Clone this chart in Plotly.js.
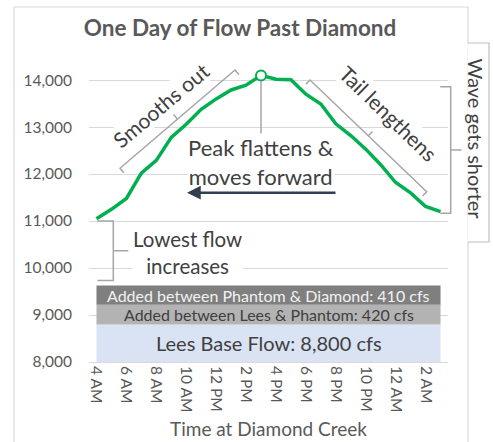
<!DOCTYPE html>
<html>
<head>
<meta charset="utf-8">
<script src="https://cdn.plot.ly/plotly-3.0.1.min.js"></script>
<style>html,body{margin:0;padding:0;background:#fff;}#chart{width:493px;height:442px;}</style>
</head>
<body>
<div id="chart"></div>
<script>
// ---- data ----
const hours = [4,5,6,7,8,9,10,11,12,13,14,15,16,17,18,19,20,21,22,23,24,25,26,27];
const flows = [11050,11250,11480,12020,12290,12780,13060,13380,13600,13790,13890,14100,
               14020,14010,13700,13490,13070,12820,12530,12200,11820,11600,11310,11200];
const tickVals = [4,6,8,10,12,14,16,18,20,22,24,26];
const tickText = ['4 AM','6 AM','8 AM','10 AM','12 PM','2 PM','4 PM','6 PM','8 PM','10 PM','12 AM','2 AM'];
const baseFlow = 8800;
const leesToPhantom = 420;
const phantomToDiamond = 410;
const bandLabels = ['Lees Base Flow: 8,800 cfs','Added between Lees &amp; Phantom: 420 cfs','Added between Phantom &amp; Diamond: 410 cfs'];

// ---- layout geometry ----
const W = 493, H = 442;
const M = {l: 89, r: 45, t: 66, b: 80};
const PW = W - M.l - M.r, PH = H - M.t - M.b;
const px = x => (x - M.l) / PW;          // pixel -> paper
const py = y => (H - M.b - y) / PH;
const FONT = 'Lato, "Open Sans", sans-serif';
const GRAY = '#a6a6a6';
const TXT = '#404040';

function bracket(p1, p2, endLen, midLen) {
  const dx = p2[0]-p1[0], dy = p2[1]-p1[1];
  const L = Math.hypot(dx, dy);
  const n = [-dy/L, dx/L];
  const m = [(p1[0]+p2[0])/2, (p1[1]+p2[1])/2];
  const P = p => px(p[0]).toFixed(5) + ',' + py(p[1]).toFixed(5);
  const a = [p1[0]+n[0]*endLen, p1[1]+n[1]*endLen];
  const b = [p2[0]+n[0]*endLen, p2[1]+n[1]*endLen];
  const c = [m[0]-n[0]*midLen, m[1]-n[1]*midLen];
  return [
    {type:'path', xref:'paper', yref:'paper', path:'M'+P(a)+' L'+P(p1)+' L'+P(p2)+' L'+P(b), line:{color:GRAY,width:1.5}},
    {type:'path', xref:'paper', yref:'paper', path:'M'+P(m)+' L'+P(c), line:{color:GRAY,width:1.5}}
  ];
}

const x0 = hours[0], x1 = hours[hours.length-1];
const tops = [baseFlow, baseFlow+leesToPhantom, baseFlow+leesToPhantom+phantomToDiamond];
const bandColors = ['#dae3f3','#b3b3b3','#7f7f7f'];
const bandTextColors = [TXT, TXT, '#f2f2f2'];
const bandFont = [20, 16, 16];

const traces = tops.map((t, i) => ({
  x: [x0, x1], y: [t, t], mode: 'lines', line: {width: 0},
  fill: i === 0 ? 'tozeroy' : 'tonexty', fillcolor: bandColors[i],
  hoverinfo: 'skip', showlegend: false
}));

let iMax = 0;
flows.forEach((v, i) => { if (v > flows[iMax]) iMax = i; });

traces.push({x: hours, y: flows, mode: 'lines', line: {color: '#00b050', width: 3.5}, showlegend: false});
traces.push({x: [hours[iMax]], y: [flows[iMax]], mode: 'markers',
  marker: {size: 10, color: 'white', line: {color: '#00b050', width: 2}}, showlegend: false});

const annotations = [];
tops.forEach((t, i) => {
  const lo = i === 0 ? 8000 : tops[i-1];
  annotations.push({x: (x0 + x1)/2, y: (lo + t)/2, xref: 'x', yref: 'y', text: bandLabels[i],
    showarrow: false, font: {family: FONT, size: bandFont[i], color: bandTextColors[i]}});
});

function note(text, x, y, size, angle, bg) {
  return {xref:'paper', yref:'paper', x: px(x), y: py(y), text: text, showarrow: false,
    textangle: angle || 0, xanchor:'center', yanchor:'middle',
    font: {family: FONT, size: size, color: TXT}, bgcolor: bg === false ? 'rgba(0,0,0,0)' : 'white', borderpad: 0};
}
annotations.push(note('Smooths out', 160, 105, 21, -40));
annotations.push(note('Tail lengthens', 389, 113, 21, 44));
annotations.push(note('Peak flattens &amp;<br>moves forward', 260.5, 162, 22, 0));
annotations.push(note('Lowest flow<br>increases', 187.5, 252, 20.5, 0));
annotations.push(note('Wave gets shorter', 475.5, 139, 20, 90, false));
// arrow
annotations.push({xref:'paper', yref:'paper', x: px(187), y: py(192.7), ax: 150, ay: 0, axref:'pixel', ayref:'pixel',
  text:'', showarrow: true, arrowhead: 2, arrowsize: 1.1, arrowwidth: 2.5, arrowcolor: '#333f50'});

let shapes = [];
// chart border
shapes.push({type:'path', xref:'paper', yref:'paper', layer:'below',
  path:'M'+px(14)+','+py(445)+' L'+px(14)+','+py(7)+' L'+px(468)+','+py(7)+' L'+px(468)+','+py(445),
  line:{color:'#d9d9d9', width:1.2}});
// wave text box
shapes.push({type:'rect', xref:'paper', yref:'paper', x0: px(467.5), x1: px(489), y0: py(43), y1: py(242),
  fillcolor:'white', line:{width:0}});
shapes.push({type:'path', xref:'paper', yref:'paper',
  path:'M'+px(468)+','+py(43)+' L'+px(489)+','+py(43)+' L'+px(489)+','+py(242)+' L'+px(468)+','+py(242),
  line:{color:'#bfbfbf', width:1.2}});
// peak leader
shapes.push({type:'line', xref:'paper', yref:'paper', x0: px(261), x1: px(261), y0: py(81), y1: py(137), line:{color:GRAY, width:1.5}});
shapes = shapes.concat(bracket([120,168.3],[235,70], 6, 6));
shapes = shapes.concat(bracket([310,80],[426.7,191.7], 6, 6));
shapes = shapes.concat(bracket([450.7,86.7],[450.7,213.3], 10.5, 11));
shapes = shapes.concat(bracket([113.3,221],[113.3,280.5], 16, 15));

const layout = {
  width: W, height: H, margin: M, paper_bgcolor: 'white', plot_bgcolor: 'white',
  font: {family: FONT, color: '#595959'},
  title: {text: '<b>One Day of Flow Past Diamond</b>', xref:'container', yref:'container',
    x: 240/W, y: 1 - 28/H, xanchor:'center', yanchor:'middle',
    font: {family: FONT, size: 22.5, color: '#595959'}},
  xaxis: {range: [3.5, 27.5], tickvals: tickVals, ticktext: tickText, tickangle: 90,
    showgrid: false, zeroline: false, showline: true, linecolor: '#d9d9d9', linewidth: 1,
    ticks: '', tickfont: {family: FONT, size: 15.5, color: '#595959'},
    title: {text: 'Time at Diamond Creek', font: {family: FONT, size: 19, color: '#595959'}, standoff: 11}},
  yaxis: {range: [8000, 14300], tickvals: [8000,9000,10000,11000,12000,13000,14000],
    tickformat: ',d', showgrid: true, gridcolor: '#d9d9d9', gridwidth: 1, zeroline: false,
    ticks: '', ticklabelstandoff: 16, tickfont: {family: FONT, size: 15.5, color: '#595959'}},
  shapes: shapes, annotations: annotations, showlegend: false
};
Plotly.newPlot('chart', traces, layout, {staticPlot: true, displayModeBar: false});
</script>
</body>
</html>
